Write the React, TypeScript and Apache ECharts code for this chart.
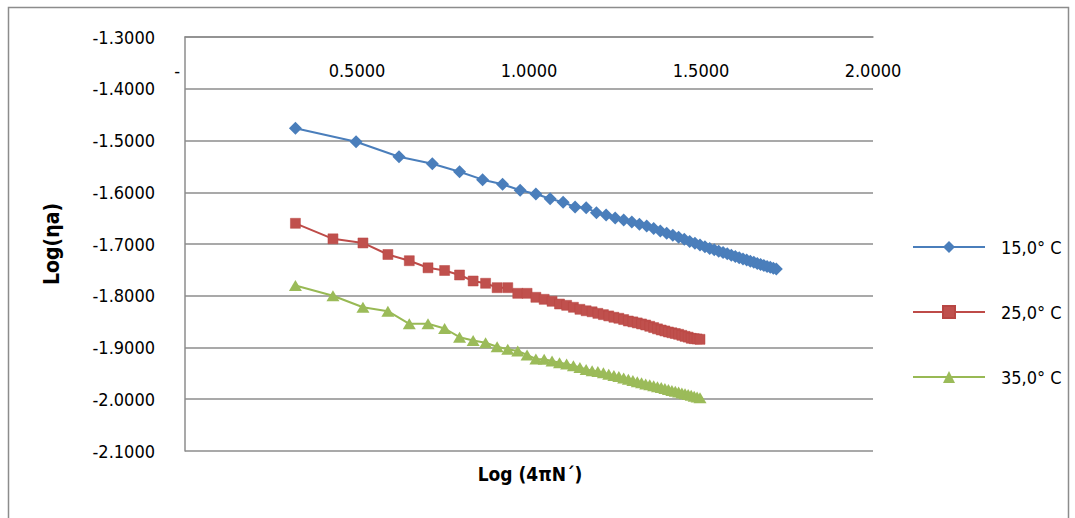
import React, { useEffect, useRef } from "react";
import * as echarts from "echarts";

const seriesNames = ["15,0° C", "25,0° C", "35,0° C"];
const xTickLabels = ["-", "0.5000", "1.0000", "1.5000", "2.0000"];

const xBlue = [
  0.3211, 0.4972, 0.6221, 0.719, 0.7982, 0.8651, 0.9231, 0.9743, 1.02, 1.0614,
  1.0992, 1.134, 1.1662, 1.1961, 1.2242, 1.2505, 1.2753, 1.2988, 1.3211, 1.3422,
  1.3624, 1.3818, 1.4002, 1.418, 1.435, 1.4514, 1.4672, 1.4824, 1.4971, 1.5114,
  1.5252, 1.5385, 1.5515, 1.5641, 1.5763, 1.5882, 1.5998, 1.6111, 1.6221, 1.6328,
  1.6433, 1.6535, 1.6635, 1.6732, 1.6828, 1.6921, 1.7013, 1.7102, 1.719,
];
const yBlue = [
  -1.4764, -1.5023, -1.5313, -1.5448, -1.5603, -1.5757, -1.5846, -1.5962, -1.6034, -1.6125,
  -1.6194, -1.6285, -1.6299, -1.6395, -1.644, -1.6498, -1.6536, -1.6575, -1.6619, -1.665,
  -1.67, -1.675, -1.679, -1.683, -1.687, -1.691, -1.695, -1.6985, -1.702, -1.7055,
  -1.7085, -1.711, -1.714, -1.7165, -1.719, -1.7215, -1.724, -1.7265, -1.729, -1.731,
  -1.7335, -1.7355, -1.7375, -1.7395, -1.7415, -1.7435, -1.745, -1.7468, -1.7483,
];

const xRedGreen = [
  0.321, 0.4301, 0.5173, 0.5898, 0.652, 0.7064, 0.7547, 0.7981, 0.8376, 0.8738,
  0.9073, 0.9383, 0.9673, 0.9944, 1.02, 1.0441, 1.067, 1.0887, 1.1094, 1.1291,
  1.148, 1.1661, 1.1835, 1.2002, 1.2163, 1.2318, 1.2468, 1.2612, 1.2752, 1.2888,
  1.302, 1.3148, 1.3272, 1.3392, 1.351, 1.3624, 1.3735, 1.3844, 1.395, 1.4053,
  1.4154, 1.4253, 1.4349, 1.4444, 1.4536, 1.4627, 1.4715, 1.4802, 1.4887, 1.4971,
];
const yRed = [
  -1.66, -1.69, -1.698, -1.7203, -1.7323, -1.746, -1.7512, -1.7599, -1.7715, -1.7759,
  -1.7844, -1.7844, -1.7953, -1.7953, -1.803, -1.8069, -1.8107, -1.816, -1.8185, -1.8223,
  -1.8262, -1.829, -1.831, -1.834, -1.8365, -1.839, -1.8416, -1.8435, -1.846, -1.8488,
  -1.8505, -1.8525, -1.8545, -1.8565, -1.859, -1.8615, -1.864, -1.8662, -1.868, -1.87,
  -1.8715, -1.873, -1.8745, -1.8765, -1.8785, -1.88, -1.8822, -1.883, -1.8835, -1.8842,
];
const yGreen = [
  -1.7802, -1.7999, -1.8223, -1.8299, -1.8542, -1.8542, -1.8633, -1.8801, -1.8865, -1.8907,
  -1.8986, -1.9035, -1.9068, -1.9145, -1.9222, -1.9228, -1.9261, -1.9294, -1.9319, -1.9352,
  -1.9386, -1.9425, -1.9448, -1.9462, -1.949, -1.9518, -1.954, -1.9562, -1.959, -1.9615,
  -1.964, -1.966, -1.968, -1.9705, -1.9722, -1.974, -1.976, -1.9775, -1.9792, -1.981,
  -1.983, -1.9845, -1.9862, -1.9878, -1.9895, -1.991, -1.9925, -1.994, -1.9955, -1.997,
];

const FONT = "'Liberation Sans Narrow', 'DejaVu Sans Condensed', 'Roboto Condensed', 'Liberation Sans', sans-serif";

function zip(xs: number[], ys: number[]) {
  return xs.map((x, i) => [x, ys[i]]);
}

export default function App() {
  const ref = useRef<HTMLDivElement>(null);
  useEffect(() => {
    if (!ref.current) return;
    const chart = echarts.init(ref.current, undefined, { renderer: "svg" });
    const gridColor = "#8c8c8c";
    chart.setOption({
      animation: false,
      backgroundColor: "#ffffff",
      grid: { left: 185, top: 37, width: 688, height: 414, containLabel: false },
      xAxis: {
        type: "value",
        position: "top",
        min: 0,
        max: 2,
        interval: 0.5,
        axisLine: { show: true, onZero: false, lineStyle: { color: gridColor, width: 1.5 } },
        axisTick: { show: false },
        splitLine: { show: false },
        axisLabel: {
          inside: true,
          margin: 24,
          fontFamily: FONT,
          fontSize: 18,
          color: "#000",
          formatter: (v: number) => xTickLabels[Math.round(v / 0.5)] + (v === 0 ? "   " : ""),
        },
      },
      yAxis: {
        type: "value",
        min: -2.1,
        max: -1.3,
        interval: 0.1,
        name: "Log(ηa)",
        nameLocation: "middle",
        nameRotate: 90,
        nameGap: 123,
        nameTextStyle: { fontFamily: FONT, fontSize: 21, fontWeight: "bold", color: "#000" },
        axisLine: { show: true, lineStyle: { color: gridColor, width: 1.5 } },
        axisTick: { show: false },
        splitLine: { show: true, lineStyle: { color: gridColor, width: 1.5 } },
        axisLabel: {
          margin: 30,
          fontFamily: FONT,
          fontSize: 18,
          color: "#000",
          formatter: (v: number) => v.toFixed(4),
        },
      },
      legend: {
        orient: "vertical",
        left: 912,
        top: 238,
        padding: 0,
        itemWidth: 72,
        itemHeight: 15,
        itemGap: 47,
        textStyle: { fontFamily: FONT, fontSize: 18, color: "#000", padding: [0, 0, 0, 11] },
        data: seriesNames,
      },
      graphic: [
        {
          type: "rect",
          shape: { x: 8.5, y: 7.5, width: 1060, height: 530 },
          style: { fill: "none", stroke: "#8c8c8c", lineWidth: 1.5 },
          silent: true,
        },
        {
          type: "text",
          x: 530,
          y: 474,
          style: {
            text: "Log (4πN´)",
            fontFamily: FONT,
            fontSize: 19,
            fontWeight: "bold",
            fill: "#000",
            textAlign: "center",
            textVerticalAlign: "middle",
          },
        },
      ],
      series: [
        {
          name: seriesNames[0],
          type: "line",
          data: zip(xBlue, yBlue),
          symbol: "diamond",
          symbolSize: 13,
          lineStyle: { color: "#4a7ebb", width: 2 },
          itemStyle: { color: "#4a7ebb" },
        },
        {
          name: seriesNames[1],
          type: "line",
          data: zip(xRedGreen, yRed),
          symbol: "rect",
          symbolSize: 10,
          lineStyle: { color: "#be4b48", width: 2 },
          itemStyle: { color: "#c0504d", borderColor: "#b84643", borderWidth: 0.5 },
        },
        {
          name: seriesNames[2],
          type: "line",
          data: zip(xRedGreen, yGreen),
          symbol: "triangle",
          symbolSize: [13, 11],
          lineStyle: { color: "#98b954", width: 2 },
          itemStyle: { color: "#9bbb59" },
        },
      ],
    });
    return () => chart.dispose();
  }, []);
  return (
    <div
      ref={ref}
      style={{ position: "fixed", left: 0, top: 0, width: 1075, height: 518, background: "#fff" }}
    />
  );
}
